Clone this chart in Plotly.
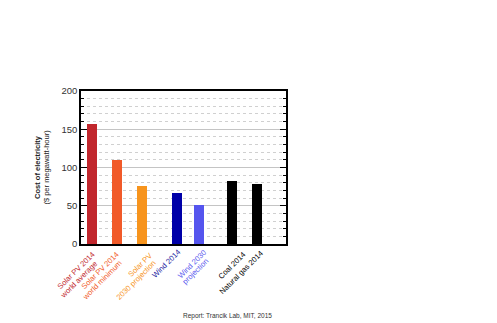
import plotly.graph_objects as go

labels = ["Solar PV 2014<br>world average", "Solar PV 2014<br>world minimum",
          "Solar PV<br>2030 projection", "Wind 2014", "Wind 2030<br>projection",
          "Coal 2014", "Natural gas 2014"]
positions = [1, 2, 3, 4.4, 5.3, 6.6, 7.6]
values = [157, 110, 76, 67, 51, 83, 78]
bar_colors = ["#c1272d", "#f15a29", "#f7941d", "#0000a8", "#5555ee", "#000000", "#000000"]
label_colors = ["#c1272d", "#f15a29", "#f7941d", "#1b1ba0", "#5a5aee", "#000000", "#000000"]
y_ticks = [0, 50, 100, 150, 200]

# label placement nudges (pixels)
label_dx = [6.5, 5.5, 14.5, 7, 10, 17.5, 9.5]
label_dy = [-5, -5, -5, -2, -3, -5, -3]
ANG = 45
LINE_DX, LINE_DY = 2.5, 8.2

fig = go.Figure(go.Bar(x=positions, y=values, marker=dict(color=bar_colors, line=dict(width=0)),
                       width=0.4))

fig.update_layout(
    width=497, height=323,
    margin=dict(l=81, r=211, t=91, b=79),
    paper_bgcolor="white", plot_bgcolor="white",
    font=dict(family="Liberation Sans, Arial, sans-serif", color="#222"),
    showlegend=False,
    bargap=0,
)
fig.update_xaxes(
    range=[0.57, 8.78], tickmode="array", tickvals=positions, showticklabels=False,
    ticks="", showgrid=False,
    showline=True, linecolor="black", linewidth=1.5, mirror=True, zeroline=False,
)
fig.update_yaxes(
    range=[0, 200], tickvals=y_ticks, tickfont=dict(size=9.5, color="#333"),
    ticks="inside", ticklen=6, tickcolor="black", tickwidth=1,
    showgrid=True, gridcolor="#c4c4c4", gridwidth=1,
    minor=dict(dtick=10, ticks="inside", ticklen=3, tickcolor="black", showgrid=True,
               gridcolor="#d0d0d0", griddash="dot", gridwidth=1),
    showline=True, linecolor="black", linewidth=1.5, mirror="allticks", zeroline=False,
)
for p, t, c, dx, dy in zip(positions, labels, label_colors, label_dx, label_dy):
    for k, line in enumerate(t.split("<br>")):
        fig.add_annotation(
            xref="x", yref="paper", x=p, y=0,
            xshift=dx + k * LINE_DX, yshift=dy - k * LINE_DY,
            text=line, textangle=-ANG, showarrow=False,
            xanchor="right", yanchor="top", font=dict(size=7.6, color=c),
            borderpad=0,
        )
fig.add_annotation(
    xref="paper", yref="paper", x=-0.19, y=0.5, textangle=-90, showarrow=False,
    text="<b>Cost of electricity</b><br>($ per megawatt-hour)",
    font=dict(size=7.5, color="#222"), xanchor="center", yanchor="middle",
)
fig.add_annotation(
    xref="paper", yref="paper", x=0.717, y=-0.47, showarrow=False,
    text="Report: Trancik Lab, MIT, 2015", font=dict(size=6.5, color="#333"),
    xanchor="center", yanchor="middle",
)
fig.write_html("out.html")
